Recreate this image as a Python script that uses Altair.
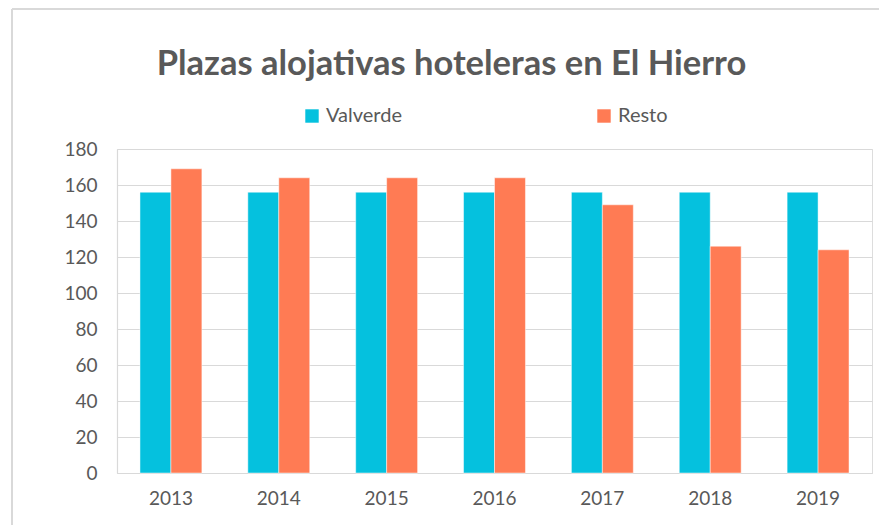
import altair as alt
import pandas as pd

years = ["2013", "2014", "2015", "2016", "2017", "2018", "2019"]
valverde = [156, 156, 156, 156, 156, 156, 156]
resto = [169, 164, 164, 164, 149, 126, 124]
series = ["Valverde", "Resto"]
colors = ["#05C1DE", "#FF7B54"]
y_ticks = [0, 20, 40, 60, 80, 100, 120, 140, 160, 180]

rows = []
for i, yr in enumerate(years):
    rows.append({"year": yr, "serie": "Valverde", "value": valverde[i]})
    rows.append({"year": yr, "serie": "Resto", "value": resto[i]})
df = pd.DataFrame(rows)

GRAY = "#595959"
FONT = "Lato"

bars = alt.Chart(df).mark_bar(stroke="white", strokeWidth=0.8, strokeOpacity=0.6).encode(
    x=alt.X("year:N", sort=years,
            scale=alt.Scale(paddingInner=0.426, paddingOuter=0.213),
            axis=alt.Axis(title=None, labelAngle=0, labelFontSize=19, labelColor=GRAY,
                          labelFont=FONT, labelPadding=16, ticks=False,
                          domainColor="#d9d9d9", domainWidth=1.2)),
    xOffset=alt.XOffset("serie:N", sort=series),
    y=alt.Y("value:Q",
            scale=alt.Scale(domain=[0, 180], nice=False),
            axis=alt.Axis(title=None, values=y_ticks, labelFontSize=19, labelColor=GRAY,
                          labelFont=FONT, labelPadding=20, ticks=False,
                          domainColor="#d9d9d9", domainWidth=1.2,
                          gridColor="#d9d9d9", gridWidth=1.2)),
    color=alt.Color("serie:N", sort=series,
                    scale=alt.Scale(domain=series, range=colors),
                    legend=alt.Legend(title=None, orient="none", direction="horizontal",
                                      legendX=185, legendY=-43,
                                      symbolType="square", symbolSize=180,
                                      symbolStrokeWidth=0, labelFontSize=20,
                                      labelColor=GRAY, labelFont=FONT,
                                      columnPadding=192, labelOffset=4)),
)

border = alt.Chart(df).mark_rule(color="#d9d9d9", strokeWidth=1.5).encode(
    x=alt.value(-105), x2=alt.value(800), y=alt.value(-140)
)
border_left = alt.Chart(df).mark_rule(color="#d9d9d9", strokeWidth=1.5).encode(
    x=alt.value(-105), y=alt.value(-140), y2=alt.value(400)
)

chart = alt.layer(border, border_left, bars).properties(
    width=755, height=324,
    title=alt.TitleParams("Plazas alojativas hoteleras en El Hierro", fontSize=34.5,
                          font=FONT, fontWeight="bold", color=GRAY, anchor="middle",
                          dx=-43, dy=88, offset=14),
    autosize=alt.AutoSizeParams(type="none"),
    padding={"left": 117, "top": 149, "right": 7, "bottom": 52},
).configure_view(strokeWidth=0).configure(background="white")

chart.save("out.html", embed_options={"renderer": "svg", "actions": False})
